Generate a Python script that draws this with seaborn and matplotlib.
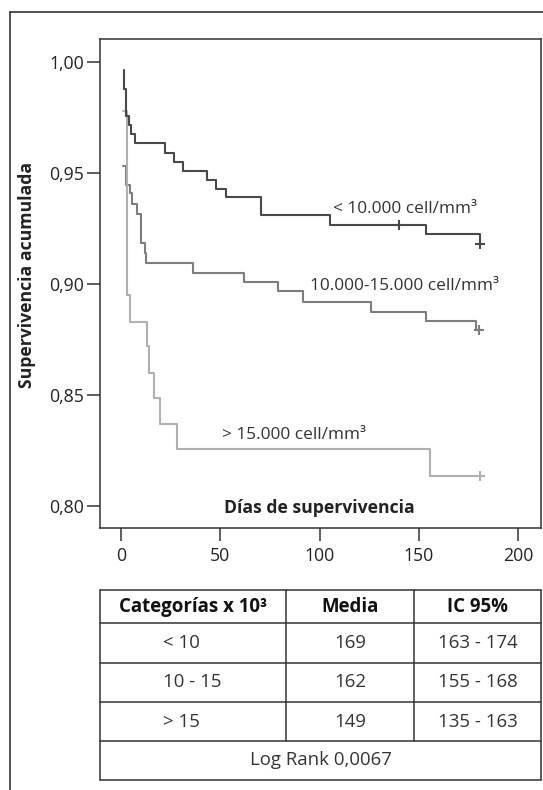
import matplotlib
matplotlib.use("Agg")
import matplotlib.pyplot as plt
import seaborn as sns
import pandas as pd
from matplotlib.lines import Line2D

# ---------------- data ----------------
t_lt10 = [1.7, 1.7, 2.7, 4.0, 5.0, 7.0, 21.9, 26.8, 31.2, 43.3, 48.0, 53.0, 70.6, 105.3, 153.5, 180.8]
s_lt10 = [0.9963, 0.9877, 0.9756, 0.9715, 0.9673, 0.9633, 0.959, 0.955, 0.951, 0.9467, 0.9426, 0.9392, 0.931, 0.9265, 0.9224, 0.918]
cens_lt10_t = [140.1, 180.8]
cens_lt10_s = [0.9265, 0.918]

t_mid = [1.0, 2.7, 4.3, 5.6, 7.8, 10.0, 11.9, 12.7, 36.2, 61.7, 79.3, 91.9, 125.8, 153.5, 178.7, 180.5]
s_mid = [0.953, 0.9445, 0.9408, 0.9358, 0.9316, 0.9185, 0.9137, 0.9095, 0.905, 0.9008, 0.8968, 0.892, 0.8875, 0.8834, 0.8792, 0.8792]
cens_mid_t = [180.5]
cens_mid_s = [0.8792]

t_gt15 = [1.0, 3.0, 4.3, 13.1, 14.2, 16.4, 19.4, 28.2, 155.7, 180.8]
s_gt15 = [0.978, 0.895, 0.883, 0.872, 0.860, 0.8485, 0.837, 0.8255, 0.8135, 0.8135]
cens_gt15_t = [180.8]
cens_gt15_s = [0.8135]

curve_labels = ["< 10.000 cell/mm³", "10.000-15.000 cell/mm³", "> 15.000 cell/mm³"]
x_ticks = [0, 50, 100, 150, 200]
y_ticks = [0.80, 0.85, 0.90, 0.95, 1.00]
y_tick_labels = ["0,80", "0,85", "0,90", "0,95", "1,00"]

table_header = ["Categorías x 10³", "Media", "IC 95%"]
table_cat = ["< 10", "10 - 15", "> 15"]
table_media = ["169", "162", "149"]
table_ic = ["163 - 174", "155 - 168", "135 - 163"]
table_footer = "Log Rank 0,0067"

# ---------------- style ----------------
sns.set_theme(style="white")
plt.rcParams["font.family"] = ["Open Sans", "DejaVu Sans"]
plt.rcParams["axes.edgecolor"] = "#333333"
plt.rcParams["axes.linewidth"] = 1.1

W, H = 543, 790
fig = plt.figure(figsize=(W / 100, H / 100), dpi=100)
fig.patch.set_facecolor("white")

def px_rect(x0, y0, x1, y1):
    return [x0 / W, 1 - y1 / H, (x1 - x0) / W, (y1 - y0) / H]

ax = fig.add_axes(px_rect(100.4, 39, 540.7, 527.5))

c_dark, c_mid, c_light = "#484848", "#7d7d7d", "#b0b0b0"

sns.lineplot(x=t_mid, y=s_mid, estimator=None, sort=False, drawstyle="steps-post",
             color=c_mid, lw=1.5, ax=ax)
sns.lineplot(x=t_gt15, y=s_gt15, estimator=None, sort=False, drawstyle="steps-post",
             color=c_light, lw=1.5, ax=ax)
sns.lineplot(x=t_lt10, y=s_lt10, estimator=None, sort=False, drawstyle="steps-post",
             color=c_dark, lw=1.5, ax=ax)

for tt, ss, cc in [(cens_lt10_t, cens_lt10_s, c_dark), (cens_mid_t, cens_mid_s, c_mid),
                   (cens_gt15_t, cens_gt15_s, c_light)]:
    sns.scatterplot(x=tt, y=ss, marker="+", s=45, linewidth=1.5, color=cc, ax=ax, zorder=5)

ax.set_xlim(-10.4, 211.4)
ax.set_ylim(0.7903, 1.0102)
ax.set_xticks(x_ticks)
ax.set_xticklabels([str(v) for v in x_ticks])
ax.set_yticks(y_ticks)
ax.set_yticklabels(y_tick_labels)
ax.tick_params(axis="both", direction="out", length=9.5, width=1.1, color="#333333",
               labelsize=12.7, labelcolor="#222222", left=True, bottom=True)
ax.tick_params(axis="x", pad=4.5)
ax.tick_params(axis="y", pad=2)
ax.set_xlabel("")
ax.set_ylabel("")
for sp in ax.spines.values():
    sp.set_visible(True)

fs = 12.4
ax.text(106.8, 0.9320, curve_labels[0], fontsize=fs, color="#333333", ha="left", va="baseline")
ax.text(95.3, 0.8972, curve_labels[1], fontsize=fs, color="#333333", ha="left", va="baseline")
ax.text(50.8, 0.8300, curve_labels[2], fontsize=fs, color="#333333", ha="left", va="baseline")

ax.text(0.4965, 0.0393, "Días de supervivencia", transform=ax.transAxes, fontsize=12.7,
        fontweight="bold", color="#222222", ha="center", va="center")
fig.text(27 / W, 1 - 275 / H, "Supervivencia acumulada", rotation=90, fontsize=12.7,
         fontweight="bold", color="#222222", ha="center", va="center")

# ---------------- table ----------------
tx0, tx1, ty0, ty1 = 100.4, 541.0, 590.0, 780.0
tab = fig.add_axes(px_rect(tx0, ty0, tx1, ty1))
tab.set_xlim(tx0, tx1)
tab.set_ylim(ty1, ty0)
tab.axis("off")
rows_y = [590.0, 623.5, 662.7, 702.1, 741.0, 780.0]
col_x = [100.4, 285.7, 414.1, 541.0]
lc = "#333333"
for yv in rows_y:
    tab.plot([tx0, tx1], [yv, yv], color=lc, lw=1.1, clip_on=False)
tab.plot([tx0, tx0], [ty0, ty1], color=lc, lw=1.1, clip_on=False)
tab.plot([tx1, tx1], [ty0, ty1], color=lc, lw=1.1, clip_on=False)
for xv in col_x[1:3]:
    tab.plot([xv, xv], [ty0, 741.0], color=lc, lw=1.1, clip_on=False)

tfs = 13.4
hy = (rows_y[0] + rows_y[1]) / 2
for i, h in enumerate(table_header):
    tab.text((col_x[i] + col_x[i + 1]) / 2, hy, h, fontsize=tfs, fontweight="bold",
             color="#111111", ha="center", va="center")
for r in range(3):
    yc = (rows_y[r + 1] + rows_y[r + 2]) / 2
    tab.text(163, yc, table_cat[r], fontsize=tfs, color="#333333", ha="left", va="center")
    tab.text((col_x[1] + col_x[2]) / 2, yc, table_media[r], fontsize=tfs, color="#333333",
             ha="center", va="center")
    tab.text((col_x[2] + col_x[3]) / 2, yc, table_ic[r], fontsize=tfs, color="#333333",
             ha="center", va="center")
tab.text((tx0 + tx1) / 2, (rows_y[4] + rows_y[5]) / 2, table_footer, fontsize=tfs,
         color="#333333", ha="center", va="center")

# ---------------- outer frame ----------------
fig.add_artist(Line2D([9.5 / W, 9.5 / W], [1 - 11.5 / H, 0], transform=fig.transFigure,
                      color="#333333", lw=1.2))
fig.add_artist(Line2D([9.5 / W, 1], [1 - 11.5 / H, 1 - 11.5 / H], transform=fig.transFigure,
                      color="#333333", lw=1.2))

fig.savefig("out.png", dpi=100)
